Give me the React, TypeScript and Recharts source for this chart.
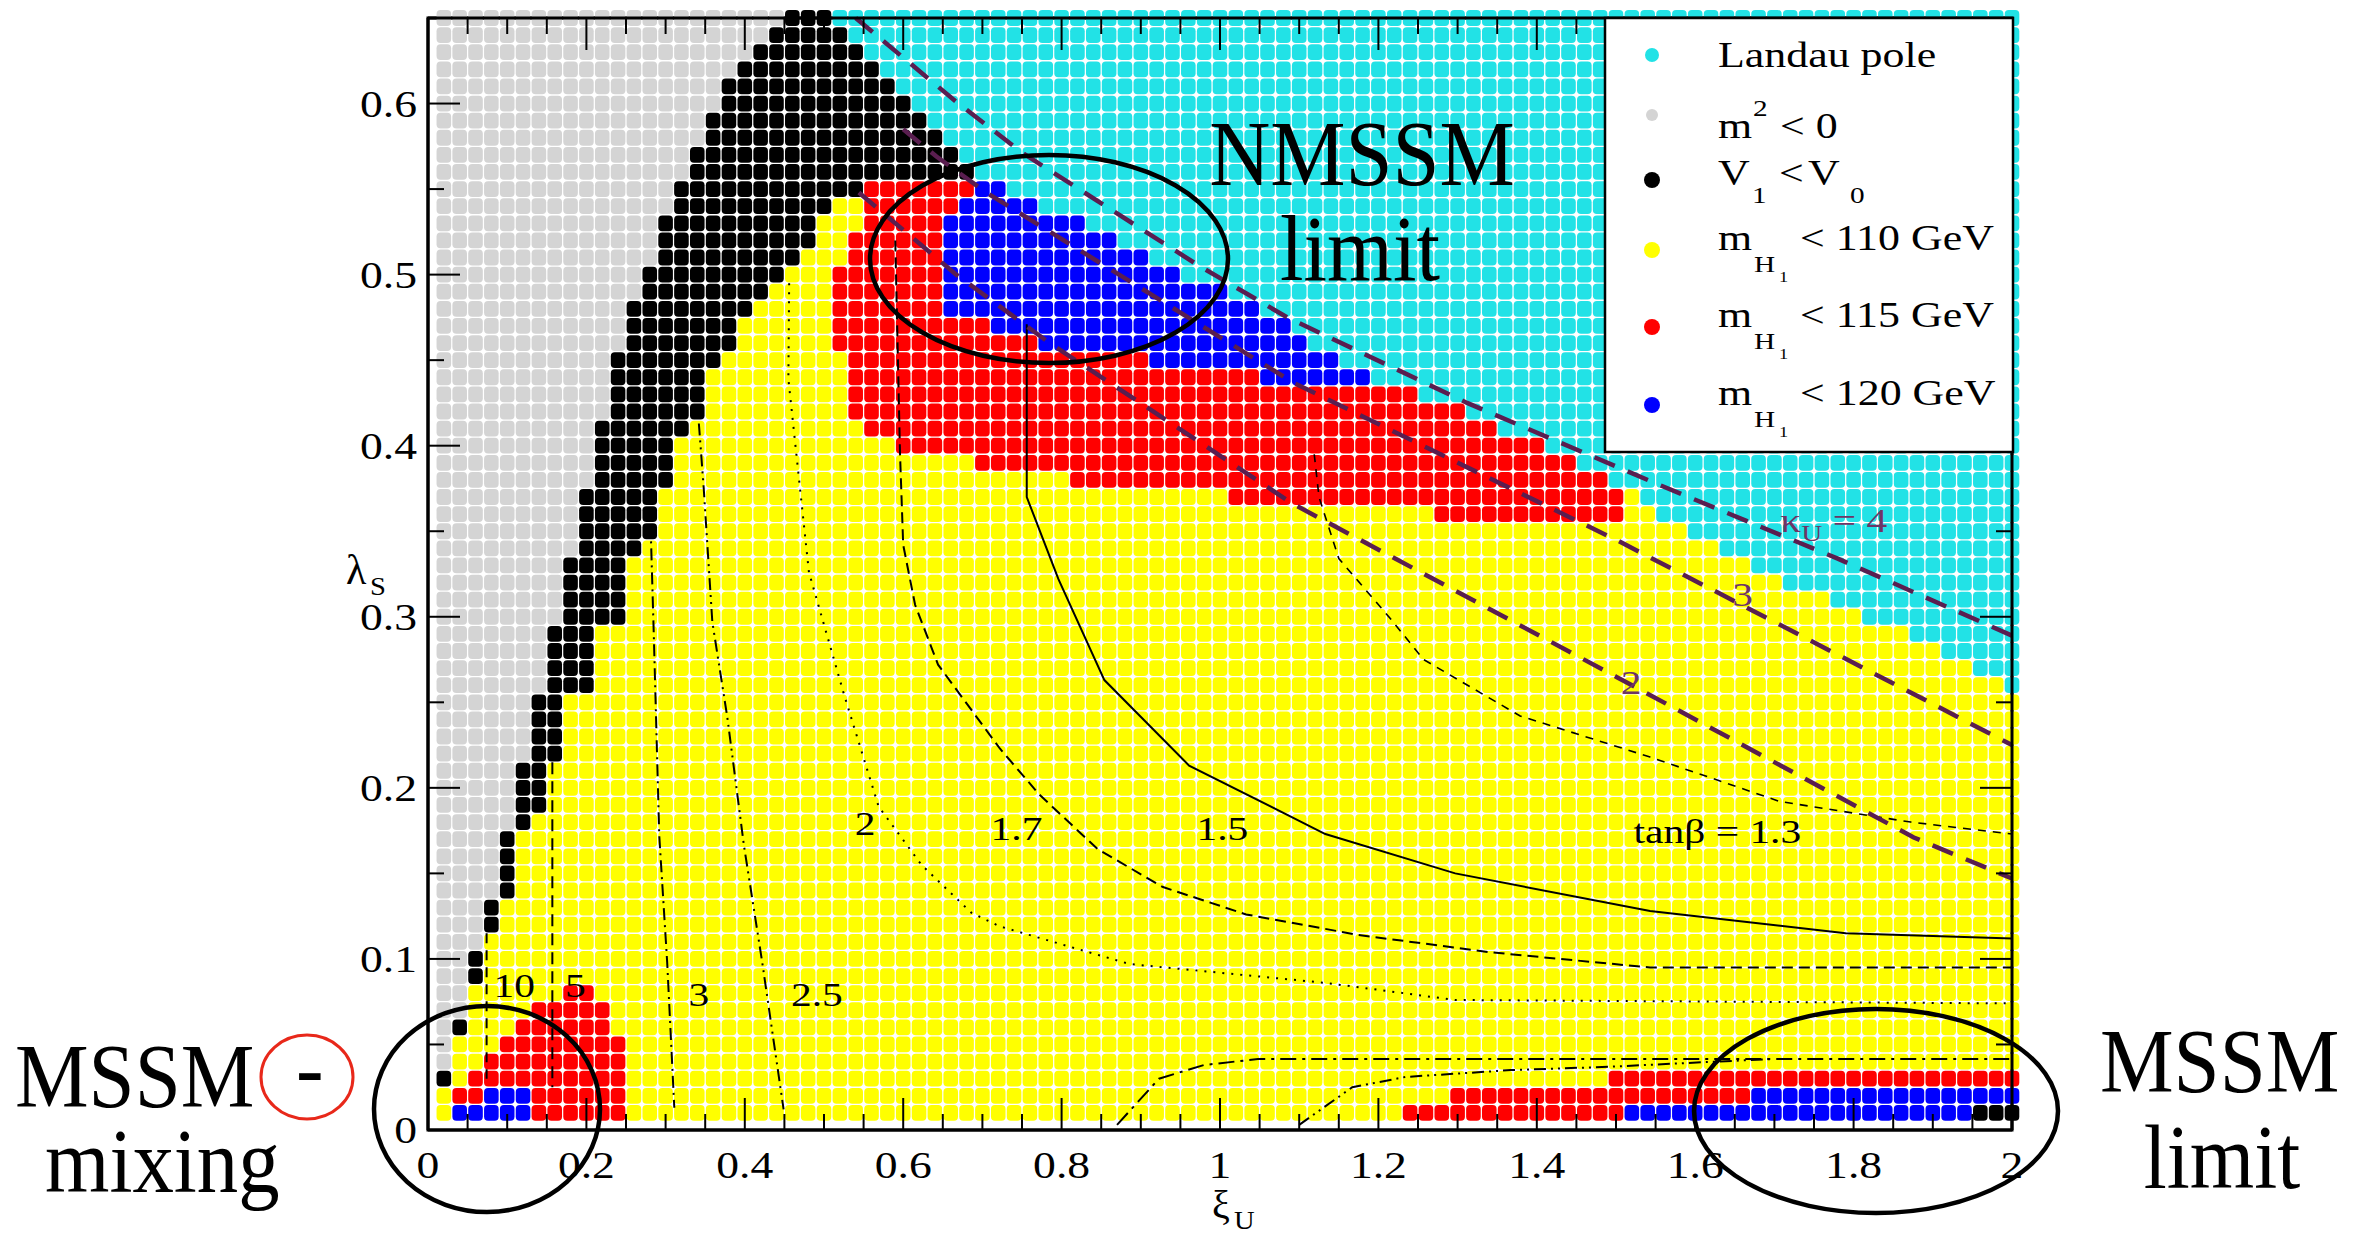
import React from "react";
import { ScatterChart, Scatter, XAxis, YAxis } from "recharts";

const W = 2372;
const H = 1242;
const SERIF = "'Liberation Serif', 'Times New Roman', Times, serif";

const COLORS = {
  cyan: "#22e2e6",
  gray: "#d4d4d4",
  black: "#000000",
  yellow: "#ffff00",
  red: "#ff0000",
  blue: "#0000ff",
};

// scan grid: xi_U = 0.02 .. 2.00, lambda_S = 0.01 .. 0.65
const XI_GRID = Array.from({ length: 100 }, (_, i) => +((i + 1) * 0.02).toFixed(2));
const LAMBDA_GRID = Array.from({ length: 65 }, (_, j) => +((j + 1) * 0.01).toFixed(2));

// Landau pole boundary (cyan above)
const CYAN_XI = [0.49, 0.51, 0.58, 0.64, 0.68, 0.72, 0.8, 0.9, 1.0, 1.08, 1.16, 1.28, 1.38, 1.46, 1.52, 1.56, 1.66, 1.76, 1.86, 1.94, 2.0];
const CYAN_LAMBDA = [0.655, 0.645, 0.61, 0.585, 0.565, 0.552, 0.535, 0.512, 0.49, 0.47, 0.445, 0.425, 0.405, 0.388, 0.37, 0.355, 0.333, 0.31, 0.29, 0.272, 0.258];

// per row (lambda = 0.01 .. 0.65): first black column (grey to the left of it) and last black column
const BAND_LEFT = [
  0, 0, 0.02, 0.04, 0.04, 0.04, 0.06, 0.06, 0.06, 0.06,
  0.08, 0.08, 0.08, 0.1, 0.1, 0.1, 0.1, 0.12, 0.12, 0.12,
  0.12, 0.14, 0.14, 0.14, 0.14, 0.16, 0.16, 0.16, 0.16, 0.18,
  0.18, 0.18, 0.18, 0.2, 0.2, 0.2, 0.2, 0.22, 0.22, 0.22,
  0.22, 0.24, 0.24, 0.24, 0.24, 0.26, 0.26, 0.26, 0.28, 0.28,
  0.3, 0.3, 0.3, 0.32, 0.32, 0.34, 0.34, 0.36, 0.36, 0.38,
  0.38, 0.4, 0.42, 0.44, 0.46,
];
const BAND_RIGHT = [
  0, 0, 0.02, 0, 0, 0.04, 0, 0, 0.06, 0.06,
  0, 0.08, 0.08, 0.1, 0.1, 0.1, 0.1, 0.12, 0.14, 0.14,
  0.14, 0.16, 0.16, 0.16, 0.16, 0.2, 0.2, 0.2, 0.2, 0.24,
  0.24, 0.24, 0.24, 0.26, 0.28, 0.28, 0.28, 0.3, 0.3, 0.3,
  0.32, 0.34, 0.34, 0.34, 0.36, 0.38, 0.38, 0.4, 0.42, 0.44,
  0.46, 0.48, 0.48, 0.5, 0.54, 0.68, 2, 2, 2, 2,
  2, 2, 2, 2, 2,
];

// upper red band: first red column for rows lambda = 0.36 .. 0.56
const RED_LEFT = [1.28, 1.02, 0.82, 0.7, 0.6, 0.56, 0.54, 0.54, 0.54, 0.54, 0.52, 0.52, 0.52, 0.52, 0.52, 0.54, 0.54, 0.56, 0.56, 0.56, 0.7];
const RED_RIGHT = 1.5;

// upper blue patch, column segments
const BLUE_FROM = [0.66, 0.68, 0.7, 0.72, 0.78, 0.92, 1.06];
const BLUE_TO = [0.66, 0.68, 0.7, 0.76, 0.9, 1.04, 1.18];
const BLUE_FLOOR = [0.48, 0.48, 0.48, 0.47, 0.46, 0.45, 0.44];
const BLUE_CEIL = [0.53, 0.54, 0.55, 0.55, 0.55, 0.55, 0.55];

// MSSM with mixing corner, rows lambda = 0.01 .. 0.08
const MIX_RED_FROM = [0.04, 0.04, 0.06, 0.08, 0.1, 0.12, 0.14, 0.18];
const MIX_RED_TO = [0.24, 0.24, 0.24, 0.24, 0.24, 0.22, 0.22, 0.2];
const MIX_BLUE_FROM = [0.04, 0.08];
const MIX_BLUE_TO = [0.12, 0.12];

// MSSM limit strips, rows lambda = 0.01 .. 0.03
const STRIP_RED_FROM = [1.24, 1.3, 1.5];
const STRIP_BLUE_FROM = [1.52, 1.68, 9];
const STRIP_BLACK_FROM = [1.96, 9, 9];

// tan(beta) contours
const TB10_XI = [0.074, 0.074];
const TB10_LAMBDA = [0.115, 0.03];
const TB5_XI = [0.157, 0.157];
const TB5_LAMBDA = [0.215, 0.025];
const TB3_XI = [0.281, 0.285, 0.292, 0.302, 0.311];
const TB3_LAMBDA = [0.354, 0.291, 0.172, 0.098, 0.013];
const TB25_XI = [0.342, 0.348, 0.359, 0.378, 0.399, 0.422, 0.449];
const TB25_LAMBDA = [0.413, 0.376, 0.297, 0.241, 0.166, 0.098, 0.012];
const TB2_XI = [0.456, 0.455, 0.481, 0.525, 0.569, 0.623, 0.686, 0.722, 0.886, 1.133, 1.297, 2.0];
const TB2_LAMBDA = [0.495, 0.439, 0.326, 0.255, 0.189, 0.155, 0.127, 0.119, 0.097, 0.086, 0.076, 0.074];
const TB17_XI = [0.59, 0.596, 0.6, 0.615, 0.644, 0.722, 0.772, 0.846, 0.928, 1.033, 1.175, 1.339, 1.543, 2.0];
const TB17_LAMBDA = [0.52, 0.395, 0.342, 0.307, 0.272, 0.223, 0.196, 0.164, 0.142, 0.126, 0.114, 0.104, 0.095, 0.095];
const TB15_XI = [0.756, 0.756, 0.796, 0.854, 0.961, 1.133, 1.297, 1.543, 1.79, 2.0];
const TB15_LAMBDA = [0.471, 0.37, 0.322, 0.263, 0.213, 0.173, 0.15, 0.128, 0.115, 0.112];
const TB13_XI = [1.119, 1.125, 1.15, 1.215, 1.257, 1.379, 1.543, 1.707, 1.872, 2.0];
const TB13_LAMBDA = [0.395, 0.37, 0.334, 0.299, 0.275, 0.242, 0.218, 0.192, 0.18, 0.173];
const LOW_A_XI = [0.87, 0.923, 0.98, 1.048, 2.0];
const LOW_A_LAMBDA = [0.003, 0.03, 0.038, 0.0415, 0.0415];
const LOW_B_XI = [1.1, 1.167, 1.234, 1.367, 1.494, 1.627, 1.7];
const LOW_B_LAMBDA = [0.003, 0.025, 0.031, 0.035, 0.037, 0.04, 0.0415];

// kappa_U contours
const K4_XI = [0.54, 0.667, 0.751, 0.974, 1.085, 1.312, 1.55, 1.78, 2.0];
const K4_LAMBDA = [0.65, 0.601, 0.571, 0.505, 0.475, 0.425, 0.378, 0.334, 0.289];
const K3_XI = [0.6, 0.642, 0.705, 0.89, 1.092, 1.5, 2.0];
const K3_LAMBDA = [0.585, 0.569, 0.548, 0.495, 0.437, 0.345, 0.225];
const K2_XI = [0.544, 0.667, 0.785, 1.092, 1.5, 1.876, 2.0];
const K2_LAMBDA = [0.548, 0.5, 0.46, 0.366, 0.265, 0.171, 0.147];

// contour labels
const LABEL_TEXT = ["10", "5", "3", "2.5", "2", "1.7", "1.5", "tanβ = 1.3", "κ", "3", "2"];
const LABEL_XI = [0.109, 0.186, 0.342, 0.491, 0.552, 0.743, 1.003, 1.628, 1.775, 1.66, 1.519];
const LABEL_LAMBDA = [0.084, 0.084, 0.079, 0.079, 0.179, 0.176, 0.176, 0.174, 0.356, 0.313, 0.261];
const LABEL_KAPPA = [false, false, false, false, false, false, false, false, true, true, true];

const X_TICKS = [0, 0.05, 0.1, 0.15, 0.2, 0.25, 0.3, 0.35, 0.4, 0.45, 0.5, 0.55, 0.6, 0.65, 0.7, 0.75, 0.8, 0.85, 0.9, 0.95, 1, 1.05, 1.1, 1.15, 1.2, 1.25, 1.3, 1.35, 1.4, 1.45, 1.5, 1.55, 1.6, 1.65, 1.7, 1.75, 1.8, 1.85, 1.9, 1.95, 2];
const Y_TICKS = [0, 0.05, 0.1, 0.15, 0.2, 0.25, 0.3, 0.35, 0.4, 0.45, 0.5, 0.55, 0.6, 0.65];

const E = 0.001;

function lerp(xs: number[], ys: number[], x: number) {
  if (x <= xs[0]) return ys[0];
  for (let i = 1; i < xs.length; i++) {
    if (x <= xs[i]) {
      const t = (x - xs[i - 1]) / (xs[i] - xs[i - 1]);
      return ys[i - 1] + t * (ys[i] - ys[i - 1]);
    }
  }
  return ys[ys.length - 1];
}

function classify(xi: number, lam: number): keyof typeof COLORS {
  const r = Math.round(lam * 100);
  if (r <= MIX_RED_FROM.length && xi >= MIX_RED_FROM[r - 1] - E && xi <= MIX_RED_TO[r - 1] + E) {
    if (r <= MIX_BLUE_FROM.length && xi >= MIX_BLUE_FROM[r - 1] - E && xi <= MIX_BLUE_TO[r - 1] + E) return "blue";
    return "red";
  }
  if (r <= STRIP_RED_FROM.length && xi >= STRIP_RED_FROM[r - 1] - E) {
    if (xi >= STRIP_BLACK_FROM[r - 1] - E) return "black";
    if (xi >= STRIP_BLUE_FROM[r - 1] - E) return "blue";
    return "red";
  }
  if (lam > lerp(CYAN_XI, CYAN_LAMBDA, xi) + 1e-6) return "cyan";
  if (xi < BAND_LEFT[r - 1] - E) return "gray";
  if (xi <= BAND_RIGHT[r - 1] + E) return "black";
  for (let k = 0; k < BLUE_FROM.length; k++) {
    if (xi >= BLUE_FROM[k] - E && xi <= BLUE_TO[k] + E && lam >= BLUE_FLOOR[k] - E && lam <= BLUE_CEIL[k] + E) return "blue";
  }
  if (r >= 36 && r <= 56 && xi >= RED_LEFT[r - 36] - E && xi <= RED_RIGHT + E) return "red";
  return "yellow";
}

const groups: Record<string, { x: number; y: number }[]> = { cyan: [], gray: [], black: [], yellow: [], red: [], blue: [] };
XI_GRID.forEach((xi) => LAMBDA_GRID.forEach((lam) => groups[classify(xi, lam)].push({ x: xi, y: lam })));

const pts = (xs: number[], ys: number[]) => xs.map((x, i) => ({ x, y: ys[i] }));
const labelData = LABEL_TEXT.map((t, i) => ({ x: LABEL_XI[i], y: LABEL_LAMBDA[i], t, kappa: LABEL_KAPPA[i] }));

const cellShape = (fill: string) => (p: any) => (
  <rect x={p.cx - 7.3} y={p.cy - 7.9} width={14.6} height={15.8} rx={4} fill={fill} />
);
const noDot = () => <g />;

const labelShape = (p: any) => {
  const d = p.payload;
  const col = d.kappa ? "#6e3566" : "#000";
  return (
    <text transform={`translate(${p.cx},${p.cy + 11}) scale(1.22,1)`} textAnchor="middle" fontFamily={SERIF} fontSize={34} fill={col}>
      {d.t === "κ" ? (
        <>
          <tspan>κ</tspan>
          <tspan fontSize={24} dy={9}>U</tspan>
          <tspan dy={-9}> = 4</tspan>
        </>
      ) : (
        d.t
      )}
    </text>
  );
};

const fmt = (v: number) => String(Math.round(v * 100) / 100);
const isMajor = (v: number, step: number) => Math.abs(v / step - Math.round(v / step)) < 1e-6;

// plot frame in page pixels (xi 0..2, lambda 0..0.65)
const PLOT_LEFT = 428;
const PLOT_TOP = 18;
const PLOT_RIGHT = 2012;
const PLOT_BOTTOM = 1130;

function BottomTick(p: any) {
  const v = p.payload.value;
  const major = isMajor(v, 0.2);
  const y = PLOT_BOTTOM;
  return (
    <g>
      <line x1={p.x} x2={p.x} y1={y} y2={y - (major ? 32 : 16)} stroke="#000" strokeWidth={2} />
      {major && (
        <text transform={`translate(${p.x},${y + 48}) scale(1.2,1)`} textAnchor="middle" fontFamily={SERIF} fontSize={38} fill="#000">
          {fmt(v)}
        </text>
      )}
    </g>
  );
}
function TopTick(p: any) {
  const major = isMajor(p.payload.value, 0.2);
  return <line x1={p.x} x2={p.x} y1={PLOT_TOP} y2={PLOT_TOP + (major ? 32 : 16)} stroke="#000" strokeWidth={2} />;
}
function LeftTick(p: any) {
  const v = p.payload.value;
  const major = isMajor(v, 0.1);
  const x = PLOT_LEFT;
  return (
    <g>
      <line x1={x} x2={x + (major ? 32 : 16)} y1={p.y} y2={p.y} stroke="#000" strokeWidth={2} />
      {major && (
        <text transform={`translate(${x - 11},${p.y + 13}) scale(1.2,1)`} textAnchor="end" fontFamily={SERIF} fontSize={38} fill="#000">
          {fmt(v)}
        </text>
      )}
    </g>
  );
}
function RightTick(p: any) {
  const major = isMajor(p.payload.value, 0.1);
  return <line x1={PLOT_RIGHT} x2={PLOT_RIGHT - (major ? 32 : 16)} y1={p.y} y2={p.y} stroke="#000" strokeWidth={2} />;
}

function ST({ x, y, s, sx = 1.22, anchor = "start", fill = "#000", children }: any) {
  return (
    <text transform={`translate(${x},${y}) scale(${sx},1)`} fontSize={s} fontFamily={SERIF} textAnchor={anchor} fill={fill}>
      {children}
    </text>
  );
}

const AXIS = { stroke: "#000", strokeWidth: 3 };
const THIN = { stroke: "#000", strokeWidth: 2 };
const KAPPA = { stroke: "#5a1e50", strokeWidth: 4.5, strokeDasharray: "22 14" };

function Legend() {
  const rows = [250, 327, 405];
  const masses = ["110", "115", "120"];
  return (
    <g>
      <rect x={1605} y={18} width={408} height={434} fill="#fff" stroke="#000" strokeWidth={2.5} />
      <circle cx={1652} cy={55} r={7} fill={COLORS.cyan} />
      <ST x={1718} y={67} s={36}>Landau pole</ST>
      <circle cx={1652} cy={115} r={6} fill={COLORS.gray} />
      <ST x={1718} y={138} s={36}>m</ST>
      <ST x={1753} y={116} s={24}>2</ST>
      <ST x={1780} y={138} s={36}>{"< 0"}</ST>
      <circle cx={1652} cy={180} r={8} fill={COLORS.black} />
      <ST x={1718} y={185} s={36}>V</ST>
      <ST x={1752} y={203} s={24}>1</ST>
      <ST x={1779} y={185} s={36}>{"<"}</ST>
      <ST x={1808} y={185} s={36}>V</ST>
      <ST x={1850} y={203} s={24}>0</ST>
      {rows.map((b, i) => (
        <g key={b}>
          <circle cx={1652} cy={b} r={8} fill={[COLORS.yellow, COLORS.red, COLORS.blue][i]} />
          <ST x={1718} y={b} s={36}>m</ST>
          <ST x={1754} y={b + 22} s={24}>H</ST>
          <ST x={1779} y={b + 32} s={15}>1</ST>
          <ST x={1800} y={b} s={36}>{`< ${masses[i]} GeV`}</ST>
        </g>
      ))}
    </g>
  );
}

export default function App() {
  const order: (keyof typeof COLORS)[] = ["gray", "cyan", "yellow", "black", "red", "blue"];
  return (
    <div style={{ position: "absolute", left: 0, top: 0, width: W, height: H, background: "#fff" }}>
      <ScatterChart width={W} height={H} margin={{ top: 8, right: 350, bottom: 52, left: 368 }}>
        {order.map((k) => (
          <Scatter key={k} data={groups[k]} fill={COLORS[k]} shape={cellShape(COLORS[k])} isAnimationActive={false} />
        ))}
        <Scatter data={pts(TB10_XI, TB10_LAMBDA)} line={{ ...THIN, strokeDasharray: "10 7" }} shape={noDot} isAnimationActive={false} />
        <Scatter data={pts(TB5_XI, TB5_LAMBDA)} line={{ ...THIN, strokeDasharray: "12 7" }} shape={noDot} isAnimationActive={false} />
        <Scatter data={pts(TB3_XI, TB3_LAMBDA)} line={{ ...THIN, strokeDasharray: "12 5 2 5" }} shape={noDot} isAnimationActive={false} />
        <Scatter data={pts(TB25_XI, TB25_LAMBDA)} line={{ ...THIN, strokeDasharray: "12 5 2 5 2 5" }} shape={noDot} isAnimationActive={false} />
        <Scatter data={pts(TB2_XI, TB2_LAMBDA)} line={{ ...THIN, strokeDasharray: "2 7" }} shape={noDot} isAnimationActive={false} />
        <Scatter data={pts(TB17_XI, TB17_LAMBDA)} line={{ ...THIN, strokeDasharray: "11 6" }} shape={noDot} isAnimationActive={false} />
        <Scatter data={pts(TB15_XI, TB15_LAMBDA)} line={THIN} shape={noDot} isAnimationActive={false} />
        <Scatter data={pts(TB13_XI, TB13_LAMBDA)} line={{ ...THIN, strokeWidth: 1.6, strokeDasharray: "8 7" }} shape={noDot} isAnimationActive={false} />
        <Scatter data={pts(LOW_A_XI, LOW_A_LAMBDA)} line={{ ...THIN, strokeDasharray: "16 6 3 6" }} shape={noDot} isAnimationActive={false} />
        <Scatter data={pts(LOW_B_XI, LOW_B_LAMBDA)} line={{ ...THIN, strokeDasharray: "12 5 2 5 2 5" }} shape={noDot} isAnimationActive={false} />
        <Scatter data={pts(K4_XI, K4_LAMBDA)} line={KAPPA} shape={noDot} isAnimationActive={false} />
        <Scatter data={pts(K3_XI, K3_LAMBDA)} line={KAPPA} shape={noDot} isAnimationActive={false} />
        <Scatter data={pts(K2_XI, K2_LAMBDA)} line={KAPPA} shape={noDot} isAnimationActive={false} />
        <Scatter data={labelData} xAxisId="top" yAxisId="right" shape={labelShape} isAnimationActive={false} />

        <XAxis type="number" dataKey="x" domain={[0, 2]} ticks={X_TICKS} interval={0} height={60} tickSize={0} tickMargin={0} tickLine={false} axisLine={AXIS} tick={(p: any) => <BottomTick {...p} />} />
        <XAxis xAxisId="top" orientation="top" type="number" dataKey="x" domain={[0, 2]} ticks={X_TICKS} interval={0} height={10} tickSize={0} tickMargin={0} tickLine={false} axisLine={AXIS} tick={(p: any) => <TopTick {...p} />} />
        <YAxis type="number" dataKey="y" domain={[0, 0.65]} ticks={Y_TICKS} interval={0} width={60} tickSize={0} tickMargin={0} tickLine={false} axisLine={AXIS} tick={(p: any) => <LeftTick {...p} />} />
        <YAxis yAxisId="right" orientation="right" type="number" dataKey="y" domain={[0, 0.65]} ticks={Y_TICKS} interval={0} width={10} tickSize={0} tickMargin={0} tickLine={false} axisLine={AXIS} tick={(p: any) => <RightTick {...p} />} />
      </ScatterChart>

      <svg width={W} height={H} style={{ position: "absolute", left: 0, top: 0, pointerEvents: "none" }}>
        {/* plot frame kept above the cells, as in the reference */}
        <rect x={PLOT_LEFT} y={PLOT_TOP} width={PLOT_RIGHT - PLOT_LEFT} height={PLOT_BOTTOM - PLOT_TOP} fill="none" stroke="#000" strokeWidth={3} />
        <Legend />
        {/* axis titles */}
        <ST x={346} y={584} s={42} sx={1.0}>λ</ST>
        <ST x={370} y={595} s={26} sx={1.1}>S</ST>
        <ST x={1212} y={1218} s={40} sx={1.0}>ξ</ST>
        <ST x={1234} y={1229} s={26} sx={1.1}>U</ST>
        {/* annotations */}
        <ST x={1362} y={185} s={94} sx={0.9} anchor="middle">NMSSM</ST>
        <ST x={1360} y={280} s={94} sx={0.9} anchor="middle">limit</ST>
        <ST x={15} y={1107} s={92} sx={0.9}>MSSM</ST>
        <ST x={296} y={1098} s={92} sx={0.9}>-</ST>
        <ST x={45} y={1192} s={92} sx={0.9}>mixing</ST>
        <ST x={2100} y={1092} s={92} sx={0.9}>MSSM</ST>
        <ST x={2222} y={1188} s={92} sx={0.9} anchor="middle">limit</ST>
        <ellipse cx={307} cy={1077} rx={46} ry={42} fill="none" stroke="#e8281a" strokeWidth={3} />
        <ellipse cx={1049} cy={259} rx={179} ry={104} fill="none" stroke="#000" strokeWidth={4.5} />
        <ellipse cx={487} cy={1109} rx={113} ry={103} fill="none" stroke="#000" strokeWidth={4.5} />
        <ellipse cx={1876} cy={1111} rx={182} ry={102} fill="none" stroke="#000" strokeWidth={4.5} />
      </svg>
    </div>
  );
}
